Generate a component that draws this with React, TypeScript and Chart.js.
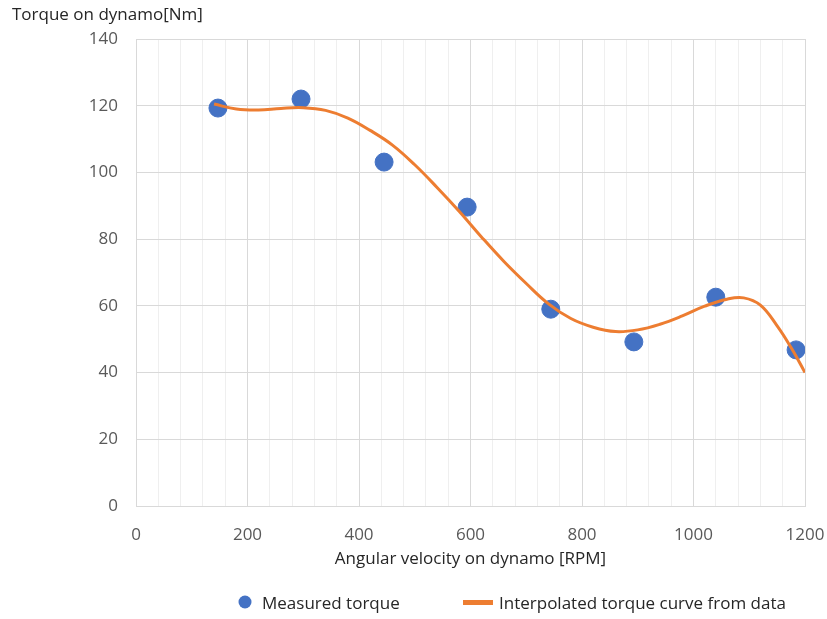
import React, { useEffect, useRef } from "react";
import { Chart, registerables } from "chart.js";

Chart.register(...registerables);

const measuredRpm = [147, 296, 445, 594, 744, 893, 1040, 1184];
const measuredTorque = [119.3, 122.0, 103.1, 89.6, 59.0, 49.2, 62.6, 46.8];

const curveRpm = [140, 180, 220, 260, 300, 340, 380, 420, 460, 500, 540, 580, 620, 660, 700, 740, 780, 820, 860, 900, 940, 980, 1020, 1060, 1090, 1120, 1150, 1175, 1200];
const curveTorque = [120.5, 119.0, 118.7, 119.2, 119.4, 118.6, 116.3, 112.6, 108.2, 102.3, 95.5, 88.3, 80.6, 73.3, 66.7, 60.6, 56.2, 53.6, 52.3, 52.8, 54.5, 57.0, 59.9, 62.0, 62.4, 60.2, 54.0, 47.5, 40.0];

const xTickLabels = [0, 200, 400, 600, 800, 1000, 1200];
const yTicks = [0, 20, 40, 60, 80, 100, 120, 140];

const seriesNames = ["Measured torque", "Interpolated torque curve from data"];
const xTitle = "Angular velocity on dynamo [RPM]";
const yTitle = "Torque on dynamo[Nm]";

const BLUE = "#4472C4";
const ORANGE = "#ED7D31";
const FONT = "'Open Sans', sans-serif";

const decorPlugin = {
  id: "decor",
  afterDraw(chart: any) {
    const ctx = chart.ctx;
    ctx.save();
    ctx.fillStyle = "#262626";
    ctx.font = `17px ${FONT}`;
    ctx.textAlign = "left";
    ctx.textBaseline = "middle";
    ctx.fillText(yTitle, 12, 15);

    // legend
    const ly = 603;
    ctx.beginPath();
    ctx.fillStyle = BLUE;
    ctx.arc(245, ly - 1, 6.5, 0, Math.PI * 2);
    ctx.fill();
    ctx.fillStyle = "#262626";
    ctx.font = `17px ${FONT}`;
    ctx.fillText(seriesNames[0], 262, ly + 1);
    ctx.fillStyle = ORANGE;
    ctx.fillRect(463, ly - 3, 30, 5);
    ctx.fillStyle = "#262626";
    ctx.fillText(seriesNames[1], 499, ly + 1);
    ctx.restore();
  },
};

export default function App() {
  const ref = useRef<HTMLCanvasElement>(null);
  useEffect(() => {
    document.body.style.margin = "0";
    const chart = new Chart(ref.current!, {
      type: "scatter",
      data: {
        datasets: [
          {
            type: "scatter",
            label: seriesNames[0],
            data: measuredRpm.map((x, i) => ({ x, y: measuredTorque[i] })),
            backgroundColor: BLUE,
            borderColor: BLUE,
            pointRadius: 9,
            pointHoverRadius: 9,
            order: 2,
          },
          {
            type: "line",
            label: seriesNames[1],
            data: curveRpm.map((x, i) => ({ x, y: curveTorque[i] })),
            borderColor: ORANGE,
            backgroundColor: ORANGE,
            borderWidth: 3,
            pointRadius: 0,
            tension: 0.4,
            fill: false,
            order: 1,
          },
        ],
      },
      options: {
        animation: false,
        responsive: true,
        maintainAspectRatio: false,
        layout: { padding: { top: 39, right: 0, bottom: 50, left: 0 } },
        plugins: {
          legend: { display: false },
          tooltip: { enabled: false },
        },
        scales: {
          x: {
            type: "linear",
            min: 0,
            max: 1200,
            afterFit: (s: any) => {
              s.height = 63;
              s.paddingRight = 22;
            },
            ticks: {
              stepSize: 40,
              autoSkip: false,
              maxRotation: 0,
              padding: 19,
              color: "#595959",
              font: { family: FONT, size: 17 },
              callback: (v: any) => (xTickLabels.includes(Number(v)) ? String(v) : ""),
            },
            grid: {
              drawTicks: false,
              color: (c: any) => (c.tick && Number(c.tick.value) % 200 === 0 ? "#d9d9d9" : "#efefef"),
              lineWidth: 1,
            },
            border: { color: "#d9d9d9" },
            title: {
              display: true,
              text: xTitle,
              color: "#262626",
              font: { family: FONT, size: 17 },
              padding: { top: 0, bottom: 0 },
            },
          },
          y: {
            type: "linear",
            min: 0,
            max: 140,
            afterFit: (s: any) => {
              s.width = 136;
            },
            afterBuildTicks: (s: any) => {
              s.ticks = yTicks.map((v) => ({ value: v }));
            },
            ticks: {
              padding: 18,
              color: "#595959",
              font: { family: FONT, size: 17 },
            },
            grid: { drawTicks: false, color: "#d9d9d9" },
            border: { color: "#d9d9d9" },
          },
        },
      },
      plugins: [decorPlugin],
    });
    return () => chart.destroy();
  }, []);
  return (
    <div style={{ position: "relative", width: 827, height: 619 }}>
      <canvas ref={ref} />
    </div>
  );
}
